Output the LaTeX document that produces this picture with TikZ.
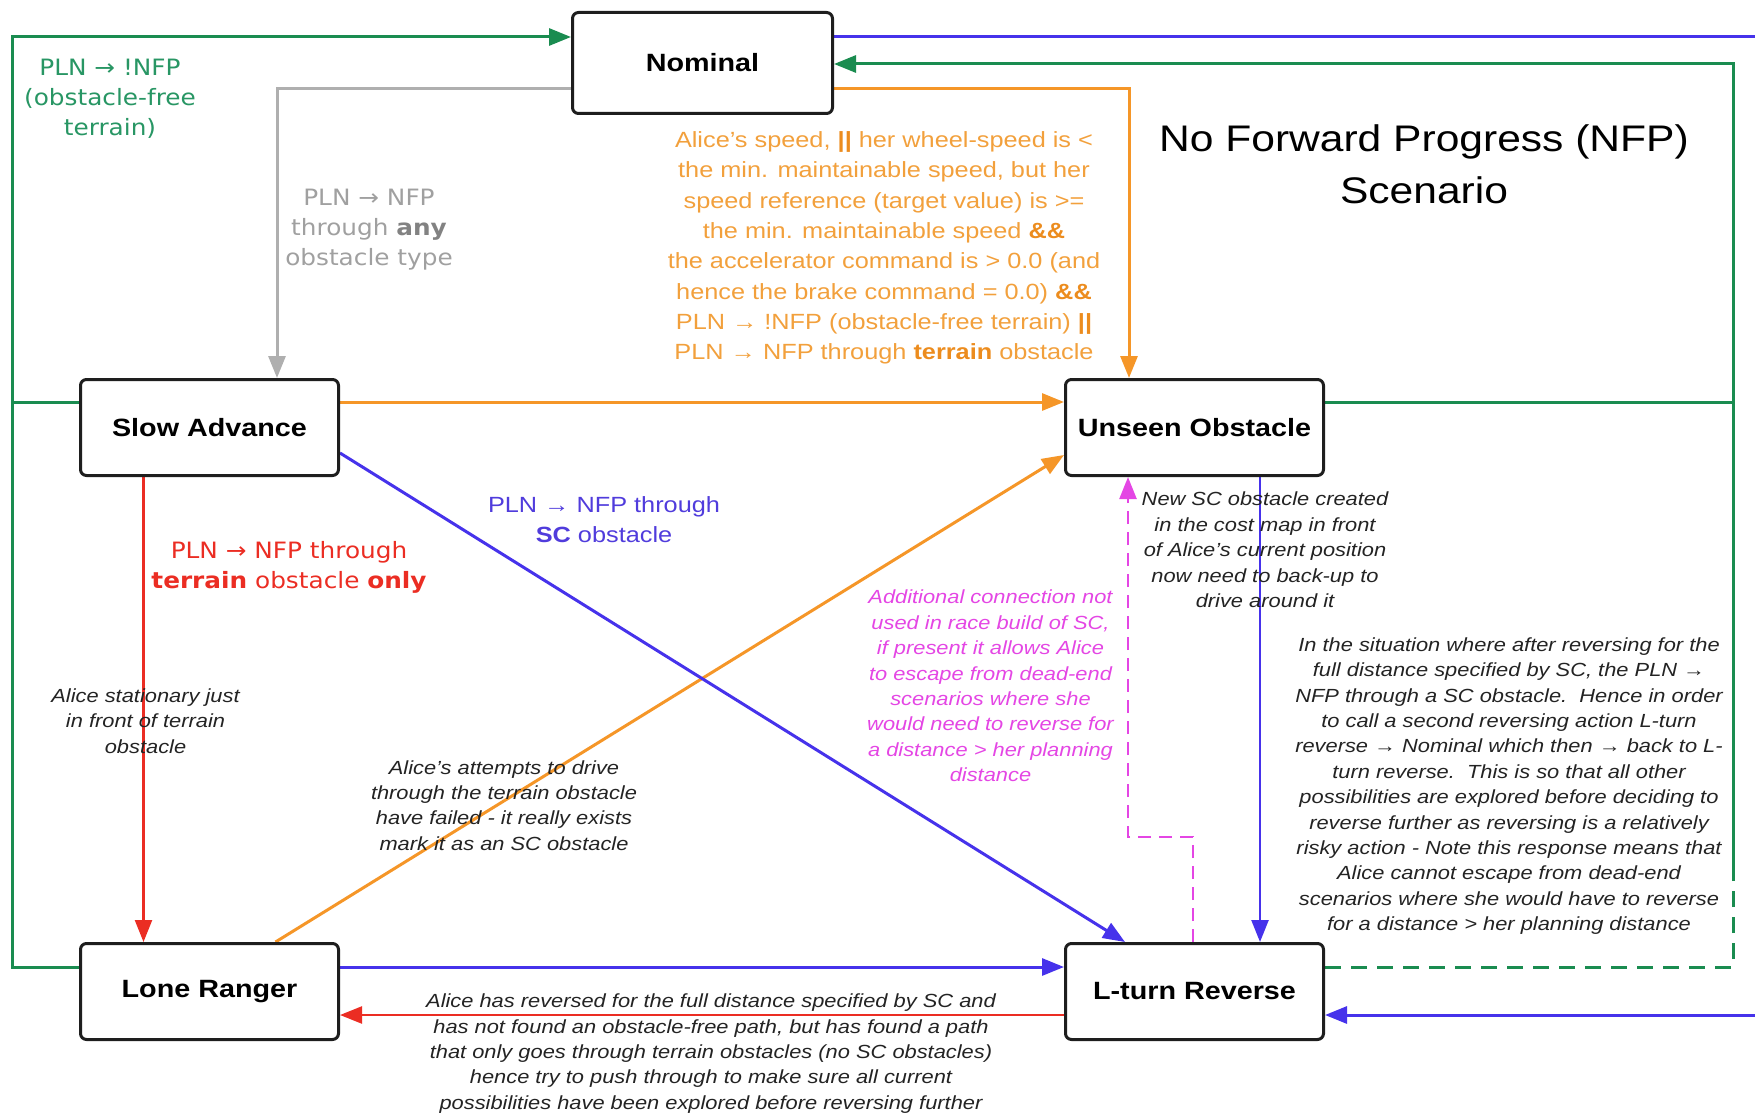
\documentclass[tikz,border=0pt]{standalone}
\usepackage{fontspec}
\setmainfont{Liberation Sans}[FakeStretch=1.15]
\newfontfamily\humfont{DejaVu Sans}[FakeStretch=1.1]
\usetikzlibrary{arrows.meta}

% line and text colours
\definecolor{grline}{RGB}{26,140,80}
\definecolor{grtext}{RGB}{40,150,100}
\definecolor{blline}{RGB}{70,50,235}
\definecolor{bltext}{RGB}{80,60,220}
\definecolor{orline}{RGB}{245,150,40}
\definecolor{ortext}{RGB}{242,160,60}
\definecolor{orbold}{RGB}{236,140,30}
\definecolor{rdline}{RGB}{235,45,35}
\definecolor{gyline}{RGB}{175,175,175}
\definecolor{gytext}{RGB}{160,160,160}
\definecolor{gybold}{RGB}{130,130,130}
\definecolor{mgline}{RGB}{228,70,228}
\definecolor{notecol}{RGB}{35,35,35}
\definecolor{boxline}{RGB}{30,30,30}

\pgfdeclarelayer{bg}
\pgfsetlayers{bg,main}

\begin{document}
\begin{tikzpicture}[x=1pt,y=-1pt,
  state/.style={draw=boxline, line width=3pt, rounded corners=6pt, fill=white,
    minimum width=258pt, minimum height=96pt, inner sep=0pt,
    font=\fontsize{25}{30}\selectfont\bfseries},
  link/.style={line width=3pt},
  thin link/.style={line width=2.4pt},
  tip/.style={-{Triangle[length=22pt,width=17pt]}},
  lbl/.style={align=center, inner sep=0pt, font=\fontsize{22}{30}\selectfont},
  humlbl/.style={align=center, inner sep=0pt, font=\humfont\fontsize{22.5}{30}\selectfont},
  note/.style={align=center, inner sep=0pt, font=\fontsize{19}{25.4}\selectfont\itshape, text=notecol},
  gdash/.style={dash pattern=on 16pt off 10pt},
  mdash/.style={dash pattern=on 13pt off 8pt}
]
\useasboundingbox (0,0) rectangle (1755,1115);
\clip (0,0) rectangle (1755,1115);

% states
\node[state, minimum width=260pt, minimum height=101pt] (nom) at (702.5,63) {Nominal};
\node[state] (sa) at (209.5,427.5) {Slow Advance};
\node[state] (ue) at (1194.5,427.5) {Unseen Obstacle};
\node[state] (lr) at (209.5,991.5) {Lone Ranger};
\node[state] (lt) at (1194.5,991.5) {L-turn Reverse};

% helper rows and columns for the orthogonal routes
\coordinate (yA) at (0,37);
\coordinate (yB) at (0,64);
\coordinate (yC) at (0,89);
\coordinate (yD) at (0,402);
\coordinate (yE) at (0,453);
\coordinate (yE2) at (0,455);
\coordinate (yM) at (0,837);
\coordinate (yH) at (0,870);
\coordinate (yF) at (0,967);
\coordinate (yG) at (0,1015);
\coordinate (xL) at (12,0);
\coordinate (xR) at (1733,0);
\coordinate (xOut) at (1775,0);
\coordinate (xGray) at (277,0);
\coordinate (xRed) at (143.5,0);
\coordinate (xOd) at (275.5,0);
\coordinate (xOv) at (1129,0);
\coordinate (xMa) at (1128,0);
\coordinate (xMb) at (1193,0);
\coordinate (xBd) at (1125,0);
\coordinate (xBv) at (1260,0);

\begin{pgfonlayer}{bg}
  % green: back to Nominal
  \draw[link, grline] (sa.west |- yD) -- (xL |- yD);
  \draw[link, grline, tip] (lr.west |- yF) -| (xL |- yA) -- (nom.west |- yA);
  \draw[link, grline] (ue.east |- yD) -- (xR |- yD);
  \draw[link, grline, gdash] (lt.east |- yF) -| (xR |- yH);
  \draw[link, grline, tip] (xR |- yH) -- (xR |- yB) -- (nom.east |- yB);
  % blue: Nominal -> L-turn Reverse around the right side
  \draw[link, blline, tip] (nom.east |- yA) -| (xOut |- yG) -- (lt.east |- yG);
  % gray: Nominal -> Slow Advance
  \draw[link, gyline, tip] (nom.west |- yC) -| (sa.north -| xGray);
  % orange: Nominal -> Unseen Obstacle
  \draw[link, orline, tip] (nom.east |- yC) -| (ue.north -| xOv);
  % orange: Slow Advance -> Unseen Obstacle
  \draw[link, orline, tip] (sa.east |- yD) -- (ue.west |- yD);
  % orange: Lone Ranger -> Unseen Obstacle
  \draw[link, orline, tip] (lr.north -| xOd) -- (ue.west |- yE2);
  % blue: Slow Advance -> L-turn Reverse
  \draw[link, blline, tip] (sa.east |- yE) -- (lt.north -| xBd);
  % red: Slow Advance -> Lone Ranger
  \draw[thin link, rdline, tip] (sa.south -| xRed) -- (lr.north -| xRed);
  % blue: Lone Ranger -> L-turn Reverse
  \draw[link, blline, tip] (lr.east |- yF) -- (lt.west |- yF);
  % red: L-turn Reverse -> Lone Ranger
  \draw[thin link, rdline, tip] (lt.west |- yG) -- (lr.east |- yG);
  % blue: Unseen Obstacle -> L-turn Reverse
  \draw[thin link, blline, tip] (ue.south -| xBv) -- (lt.north -| xBv);
  % magenta dashed: L-turn Reverse -> Unseen Obstacle
  \draw[thin link, mgline, mdash, tip] (lt.north -| xMb) -- (xMb |- yM) -| (ue.south -| xMa);
\end{pgfonlayer}

% transition labels
\node[humlbl, text=grtext] (lgreen) at (110,98.5) {PLN → !NFP\\(obstacle-free\\terrain)};
\node[humlbl, text=gytext] (lgray) at (369,229.5) {PLN → NFP\\through \textcolor{gybold}{\bfseries any}\\obstacle type};
\node[humlbl, text=rdline] (lred) at (289,567) {PLN → NFP through\\{\bfseries terrain} obstacle {\bfseries only}};
\node[lbl, text=bltext] (lblue) at (604,520) {PLN → NFP through\\{\bfseries SC} obstacle};
\node[lbl, text=ortext, font=\fontsize{22}{30.3}\selectfont] (lorange) at (884,248)
  {Alice's speed, \textcolor{orbold}{\bfseries ||} her wheel-speed is <\\
   the min. maintainable speed, but her\\
   speed reference (target value) is >=\\
   the min. maintainable speed \textcolor{orbold}{\bfseries \&\&}\\
   the accelerator command is > 0.0 (and\\
   hence the brake command = 0.0) \textcolor{orbold}{\bfseries \&\&}\\
   PLN → !NFP (obstacle-free terrain) \textcolor{orbold}{\bfseries ||}\\
   PLN → NFP through \textcolor{orbold}{\bfseries terrain} obstacle};

% explanatory notes
\node[note] (nstat) at (145.5,721) {Alice stationary just\\in front of terrain\\obstacle};
\node[note] (natt) at (504,805.5) {Alice's attempts to drive\\through the terrain obstacle\\have failed - it really exists\\mark it as an SC obstacle};
\node[note] (nsc) at (1265,550) {New SC obstacle created\\in the cost map in front\\of Alice's current position\\now need to back-up to\\drive around it};
\node[note, text=mgline] (nmag) at (990.5,686) {Additional connection not\\used in race build of SC,\\if present it allows Alice\\to escape from dead-end\\scenarios where she\\would need to reverse for\\a distance > her planning\\distance};
\node[note] (nbig) at (1509,786) {In the situation where after reversing for the\\full distance specified by SC, the PLN →\\NFP through a SC obstacle.\ \ Hence in order\\to call a second reversing action L-turn\\reverse → Nominal which then → back to L-\\turn reverse.\ \ This is so that all other\\possibilities are explored before deciding to\\reverse further as reversing is a relatively\\risky action - Note this response means that\\Alice cannot escape from dead-end\\scenarios where she would have to reverse\\for a distance > her planning distance};
\node[note] (nbot) at (711,1053.5) {Alice has reversed for the full distance specified by SC and\\has not found an obstacle-free path, but has found a path\\that only goes through terrain obstacles (no SC obstacles)\\hence try to push through to make sure all current\\possibilities have been explored before reversing further};

% heading
\node[align=center, inner sep=0pt, font=\fontsize{37}{52}\selectfont] (title) at (1424,164) {No Forward Progress (NFP)\\Scenario};
\end{tikzpicture}
\end{document}
